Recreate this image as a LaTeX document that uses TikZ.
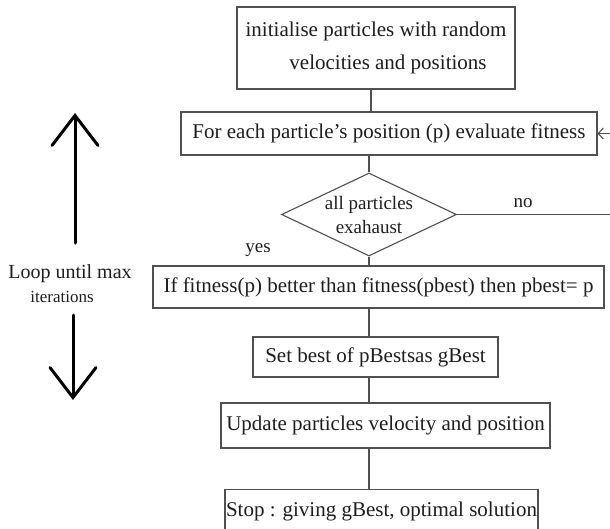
\documentclass[tikz,border=0pt]{standalone}
\usepackage{fontspec}
\setmainfont{Liberation Serif}
\usetikzlibrary{shapes.geometric,arrows.meta}
\definecolor{linegray}{HTML}{505050}
\definecolor{textgray}{HTML}{1E1E1E}
\begin{document}
\begin{tikzpicture}[x=1pt,y=-1pt,
  box/.style={draw=linegray, line width=1.1pt, inner sep=0pt, text=textgray,
    font=\fontsize{21}{33}\selectfont},
  decision/.style={draw=linegray, line width=1.1pt, diamond, aspect=2.1, inner sep=0pt,
    minimum width=175pt, minimum height=83pt, align=center, text=textgray,
    font=\fontsize{19}{24}\selectfont},
  conn/.style={draw=linegray, line width=1.1pt},
  lbl/.style={text=textgray, inner sep=0pt, font=\fontsize{19}{22}\selectfont},
  bigarrow/.style={draw=black, line width=3pt, line cap=round,
    -{Straight Barb[length=30pt,width=46pt,line cap=round]}},
  ]
\useasboundingbox[fill=white] (0,0) rectangle (610,528);

\node[box, minimum width=278pt, minimum height=82pt, align=center] (init) at (376,48)
  {initialise particles with random\\\hspace*{24pt}velocities and positions};
\node[box, minimum width=416pt, minimum height=43pt] (eval) at (389,133.5)
  {For each particle's position (p) evaluate fitness};
\node[decision] (dia) at (369,214.5) {all particles\\exahaust};
\node[box, minimum width=451pt, minimum height=42pt] (pbest) at (378.5,287)
  {If fitness(p) better than fitness(pbest) then pbest= p};
\node[box, minimum width=245pt, minimum height=40pt] (gbest) at (375.5,357)
  {Set best of pBestsas gBest};
\node[box, minimum width=329pt, minimum height=45pt] (upd) at (385.5,425.5)
  {Update particles velocity and position};
\node[box, minimum width=313pt, text height=27pt, text depth=30pt, anchor=north] (stop) at (381.5,489)
  {Stop : giving gBest, optimal solution};

\draw[conn] ([xshift=-5pt]init.south) -- ([xshift=-5pt]init.south |- eval.north);
\draw[conn] (dia.north |- eval.south) -- (dia.north);
\draw[conn] (dia.south) -- (dia.south |- pbest.north);
\draw[conn] (dia.south |- pbest.south) -- (dia.south |- gbest.north);
\draw[conn] (dia.north |- gbest.south) -- (dia.north |- upd.north);
\draw[conn] (dia.north |- upd.south) -- (dia.north |- stop.north);

\coordinate (nout) at (612,214.5);
\coordinate (rin) at (612,133.5);
\draw[conn] (dia.east) -- (dia.east -| nout);
\draw[conn, -{Straight Barb[length=5pt,width=11pt]}] (rin) -- (eval.east);

\node[lbl] (no) at (523,203) {no};
\node[lbl] (yes) at (258,250) {yes};

\coordinate (upS) at (75,243);
\coordinate (upT) at (75,113);
\coordinate (dnS) at (73,315);
\coordinate (dnT) at (73,400);
\draw[bigarrow] (upS) -- (upT);
\draw[bigarrow] (dnS) -- (dnT);
\node[text=textgray, inner sep=0pt, font=\fontsize{20}{24}\selectfont] (loop1) at (70,274) {Loop until max};
\node[text=textgray, inner sep=0pt, font=\fontsize{17}{20}\selectfont] (loop2) at (62,297) {iterations};
\end{tikzpicture}
\end{document}
